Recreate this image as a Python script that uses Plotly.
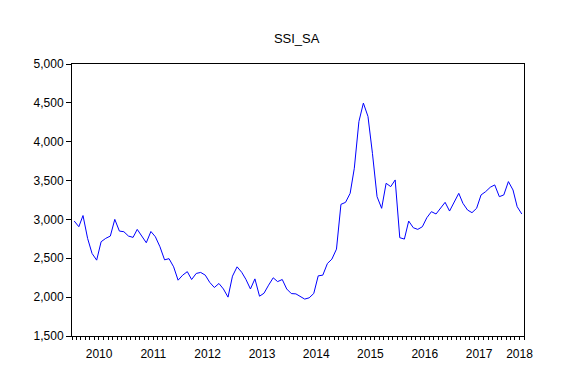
import pandas as pd
import plotly.graph_objects as go

# Monthly SSI_SA values, Jan 2010 .. Apr 2018
start_month = "2010-01-01"
ssi_sa = [
    2979, 2906, 3050, 2756, 2562, 2476, 2713, 2756, 2786, 3001, 2850, 2842,
    2786, 2769, 2872, 2777, 2700, 2845, 2777, 2648, 2480, 2495, 2390, 2218,
    2283, 2328, 2227, 2305, 2318, 2283, 2190, 2124, 2176, 2105, 2000, 2270,
    2390, 2320, 2230, 2105, 2235, 2012, 2050, 2154, 2249, 2200, 2227, 2105,
    2046, 2042, 2015, 1975, 1991, 2047, 2274, 2283, 2433, 2489, 2618, 3194,
    3220, 3336, 3658, 4260, 4497, 4325, 3850, 3293, 3143, 3465, 3422, 3508,
    2765, 2747, 2979, 2893, 2872, 2906, 3022, 3100, 3070, 3151, 3220, 3108,
    3216, 3336, 3207, 3121, 3087, 3143, 3315, 3358, 3414, 3444, 3293, 3315,
    3487, 3379, 3164, 3070,
]
year_labels = ["2010", "2011", "2012", "2013", "2014", "2015", "2016", "2017", "2018"]
y_ticks = [1500, 2000, 2500, 3000, 3500, 4000, 4500, 5000]

months = pd.date_range(start_month, periods=len(ssi_sa), freq="MS")
x_mid = months + pd.Timedelta(days=15)
x_start = months[0]
x_end = months[-1] + pd.DateOffset(months=1)

year_starts = [pd.Timestamp(f"{y}-01-01") for y in year_labels]
label_pos = []
for ys in year_starts:
    ye = ys + pd.DateOffset(years=1)
    if ye <= x_end:
        label_pos.append(ys + (ye - ys) / 2)
    else:
        label_pos.append(x_end - pd.DateOffset(months=1))

FONT = "Liberation Sans, Arial, sans-serif"

fig = go.Figure()
fig.add_trace(go.Scatter(
    x=x_mid, y=ssi_sa, mode="lines",
    line=dict(color="#0000FF", width=1),
    showlegend=False, hoverinfo="skip",
))
# invisible trace for label axis
fig.add_trace(go.Scatter(
    x=[x_start, x_end], y=[None, None], xaxis="x2", mode="lines",
    showlegend=False, hoverinfo="skip",
))

fig.update_layout(
    width=566, height=384,
    margin=dict(l=64, r=50, t=56, b=56),
    paper_bgcolor="white", plot_bgcolor="white",
    font=dict(family=FONT, size=12, color="black"),
    title=dict(text="SSI_SA", x=0.51, xanchor="center", y=1 - 30 / 384,
               yanchor="middle", font=dict(family=FONT, size=13, color="black")),
    xaxis=dict(
        type="date", range=[x_start, x_end],
        showgrid=False, zeroline=False,
        showline=True, linecolor="black", linewidth=1, mirror=True,
        tickmode="array", tickvals=year_starts, ticktext=[""] * len(year_starts),
        ticks="outside", ticklen=6, tickcolor="black", tickwidth=1,
        showticklabels=False,
        minor=dict(ticks="outside", ticklen=3, tickcolor="black", tickwidth=1,
                   dtick="M1", tick0=start_month, showgrid=False),
    ),
    xaxis2=dict(
        type="date", range=[x_start, x_end], overlaying="x", anchor="y",
        side="bottom", showgrid=False, zeroline=False, showline=False,
        tickmode="array", tickvals=label_pos, ticktext=year_labels,
        ticks="outside", ticklen=7, tickcolor="rgba(0,0,0,0)",
        tickfont=dict(family=FONT, size=12, color="black"),
    ),
    yaxis=dict(
        range=[1500, 5000], tickmode="array", tickvals=y_ticks,
        tickformat=",", showgrid=False, zeroline=False,
        showline=True, linecolor="black", linewidth=1, mirror=True,
        ticks="outside", ticklen=5, tickcolor="black", tickwidth=1,
        tickfont=dict(family=FONT, size=12, color="black"),
    ),
)

fig.write_html("out.html")
